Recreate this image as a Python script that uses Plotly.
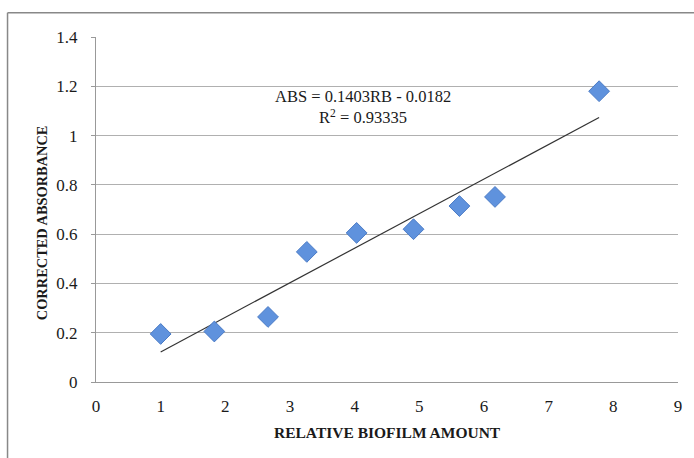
import plotly.graph_objects as go

# data
biofilm = [1.0, 1.83, 2.66, 3.26, 4.03, 4.91, 5.62, 6.17, 7.78]
absorbance = [0.195, 0.205, 0.264, 0.528, 0.605, 0.620, 0.714, 0.751, 1.180]
slope = 0.1403
intercept = -0.0182
r_squared = 0.93335
x_ticks = [0, 1, 2, 3, 4, 5, 6, 7, 8, 9]
y_ticks = [0, 0.2, 0.4, 0.6, 0.8, 1.0, 1.2, 1.4]
y_tick_labels = ["0", "0.2", "0.4", "0.6", "0.8", "1", "1.2", "1.4"]

FONT = "Liberation Serif"

x_line = [min(biofilm), max(biofilm)]
y_line = [slope * v + intercept for v in x_line]

fig = go.Figure()
fig.add_trace(go.Scatter(
    x=x_line, y=y_line, mode="lines",
    line=dict(color="#333333", width=1.2), hoverinfo="skip", showlegend=False))
fig.add_trace(go.Scatter(
    x=biofilm, y=absorbance, mode="markers",
    marker=dict(symbol="diamond", size=16, color="#5f92dd",
                line=dict(color="#4a7bc6", width=1)),
    showlegend=False))

fig.update_layout(
    width=694, height=458,
    margin=dict(l=96, r=13, t=37, b=76),
    paper_bgcolor="white", plot_bgcolor="white",
    font=dict(family=FONT, size=17, color="#1a1a1a"),
    xaxis=dict(range=[0, 9], tickvals=x_ticks, showgrid=False,
               showline=True, linecolor="#999999", linewidth=1,
               ticks="", ticklabelstandoff=9, zeroline=False,
               tickfont=dict(family=FONT, size=17, color="#1a1a1a")),
    yaxis=dict(range=[0, 1.4], tickvals=y_ticks, ticktext=y_tick_labels,
               showgrid=True, gridcolor="#b0b0b0", gridwidth=1,
               showline=True, linecolor="#999999", linewidth=1,
               ticks="outside", ticklen=4, tickcolor="#999999",
               ticklabelstandoff=10, zeroline=False,
               tickfont=dict(family=FONT, size=17, color="#1a1a1a")),
    shapes=[
        dict(type="line", xref="paper", yref="paper",
             x0=-0.152, x1=1.03, y0=1.07, y1=1.07,
             line=dict(color="#888888", width=1.5)),
        dict(type="line", xref="paper", yref="paper",
             x0=-0.152, x1=-0.152, y0=1.07, y1=-0.3,
             line=dict(color="#888888", width=1.5)),
    ],
    annotations=[
        dict(text="<b>RELATIVE BIOFILM AMOUNT</b>", xref="paper", yref="paper",
             x=0.5, y=-0.145, xanchor="center", yanchor="middle",
             showarrow=False, font=dict(family=FONT, size=15.5, color="#1a1a1a")),
        dict(text="<b>CORRECTED ABSORBANCE</b>", xref="paper", yref="paper",
             x=-0.0923, y=0.461, xanchor="center", yanchor="middle", textangle=-90,
             showarrow=False, font=dict(family=FONT, size=14.4, color="#1a1a1a")),
        dict(text="ABS = %.4fRB - %.4f<br>R<sup>2</sup> = %.5f" % (slope, -intercept, r_squared),
             xref="paper", yref="paper", x=0.458, y=0.797,
             xanchor="center", yanchor="middle", align="center",
             showarrow=False, font=dict(family=FONT, size=16.5, color="#1a1a1a")),
    ],
)

fig.write_html("out.html")
